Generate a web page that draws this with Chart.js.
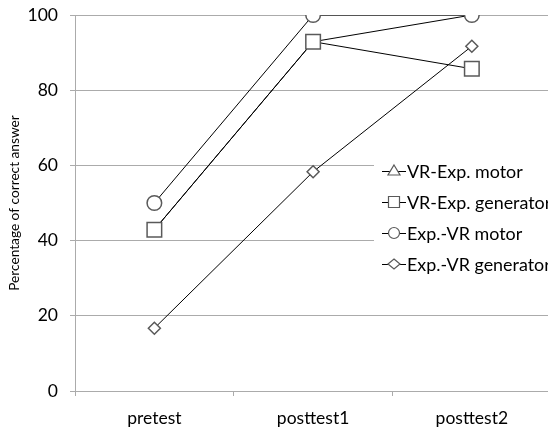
<!DOCTYPE html>
<html>
<head>
<meta charset="utf-8">
<script src="https://cdn.jsdelivr.net/npm/chart.js@4"></script>
<style>
  html, body { margin: 0; padding: 0; background: #fff; overflow: hidden; width: 548px; height: 431px; }
  #wrap { width: 563px; height: 431px; }
</style>
</head>
<body>
<div id="wrap"><canvas id="c" width="563" height="431"></canvas></div>
<script>
// Test phases on the x axis
const categories = ['pretest', 'posttest1', 'posttest2'];

// Percentage of correct answers per group
const vrExpMotor = [42.9, 92.9, 100];
const vrExpGenerator = [42.9, 92.9, 85.7];
const expVrMotor = [50, 100, 100];
const expVrGenerator = [16.7, 58.3, 91.7];

const seriesLabels = ['VR-Exp. motor', 'VR-Exp. generator', 'Exp.-VR motor', 'Exp.-VR generator'];
const yTicks = [0, 20, 40, 60, 80, 100];

const FONT = 'Lato';
const GRID = '#ababab';
const MARK = '#595959';

function series(label, data, shape, radius, order) {
  return {
    label, data, order,
    borderColor: '#000',
    borderWidth: 1,
    pointStyle: shape,
    pointRadius: radius,
    pointHoverRadius: radius,
    pointBackgroundColor: '#fff',
    pointBorderColor: MARK,
    pointBorderWidth: 1.5,
    tension: 0,
    fill: false
  };
}

// Legend drawn inside the plot area, over a white box
const insideLegend = {
  id: 'insideLegend',
  afterDraw(chart) {
    const ctx = chart.ctx;
    const x0 = 374, rowY = [171, 202, 233, 264];
    ctx.save();
    ctx.fillStyle = '#fff';
    ctx.fillRect(x0, 152, chart.width - x0, 128);
    const shapes = ['triangle', 'rect', 'circle', 'rectRot'];
    chart.data.datasets.forEach((ds, i) => {
      const y = rowY[i];
      ctx.strokeStyle = '#000';
      ctx.lineWidth = 1;
      ctx.beginPath();
      ctx.moveTo(382, y + 0.5);
      ctx.lineTo(406, y + 0.5);
      ctx.stroke();
      const cx = 394;
      ctx.fillStyle = '#fff';
      ctx.strokeStyle = MARK;
      ctx.lineWidth = 1.2;
      ctx.beginPath();
      const s = shapes[i];
      if (s === 'triangle') {
        ctx.moveTo(cx, y - 6); ctx.lineTo(cx + 6, y + 4); ctx.lineTo(cx - 6, y + 4); ctx.closePath();
      } else if (s === 'rect') {
        ctx.rect(cx - 5.5, y - 5.5, 11, 11);
      } else if (s === 'circle') {
        ctx.arc(cx, y, 5.5, 0, Math.PI * 2);
      } else {
        ctx.moveTo(cx, y - 5); ctx.lineTo(cx + 6, y); ctx.lineTo(cx, y + 5); ctx.lineTo(cx - 6, y); ctx.closePath();
      }
      ctx.fill();
      ctx.stroke();
      ctx.fillStyle = '#000';
      ctx.font = '17.9px ' + FONT;
      ctx.textBaseline = 'middle';
      ctx.textAlign = 'left';
      ctx.fillText(ds.label, 407, y + 1);
    });
    ctx.restore();
  }
};

new Chart(document.getElementById('c'), {
  type: 'line',
  data: {
    labels: categories,
    datasets: [
      series(seriesLabels[0], vrExpMotor, 'triangle', 5, 4),
      series(seriesLabels[1], vrExpGenerator, 'rect', 10.3, 3),
      series(seriesLabels[2], expVrMotor, 'circle', 7.3, 1),
      series(seriesLabels[3], expVrGenerator, 'rectRot', 6, 2)
    ]
  },
  plugins: [insideLegend],
  options: {
    responsive: false,
    animation: false,
    events: [],
    layout: { padding: { top: 15, left: 0, right: 0, bottom: 0 } },
    plugins: { legend: { display: false }, tooltip: { enabled: false } },
    scales: {
      x: {
        offset: true,
        grid: { offset: true, drawOnChartArea: false, drawTicks: true, tickLength: 5, color: GRID },
        border: { display: true, color: GRID, width: 1 },
        ticks: { color: '#000', padding: 12, font: { family: FONT, size: 17.5 } },
        afterFit(scale) {
          scale.height = 40;
          scale.paddingLeft = 0;
          scale.paddingRight = 0;
        }
      },
      y: {
        min: 0, max: 100,
        afterBuildTicks(scale) { scale.ticks = yTicks.map(v => ({ value: v })); },
        grid: { color: GRID, drawTicks: true, tickLength: 5 },
        border: { display: true, color: GRID, width: 1 },
        ticks: { color: '#000', padding: 12, font: { family: FONT, size: 17.5 } },
        title: {
          display: true,
          text: 'Percentage of correct answer',
          color: '#000',
          font: { family: FONT, size: 13.7 },
          padding: { top: 6, bottom: 0 }
        },
        afterFit(scale) {
          scale.width = 75;
          scale.paddingTop = 0;
          scale.paddingBottom = 0;
        }
      }
    }
  }
});
</script>
</body>
</html>
